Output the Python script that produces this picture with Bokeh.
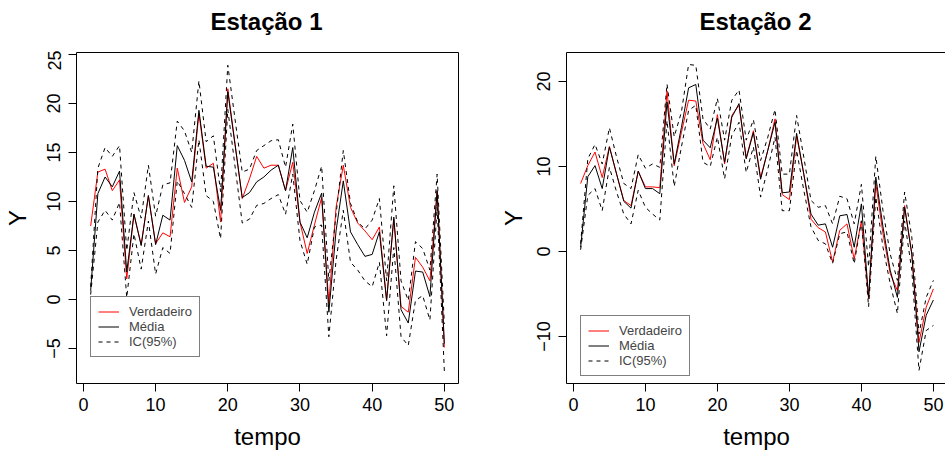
from bokeh.plotting import figure
from bokeh.layouts import row, column
from bokeh.models import FixedTicker, Range1d, Legend, LegendItem
from bokeh.core.properties import value
from bokeh.embed import file_html
from bokeh.resources import INLINE

tempo = list(range(1, 51))

verdadeiro1 = [7.5, 13.0, 13.3, 11.1, 12.2, 2.1, 8.7, 5.6, 10.6, 5.7,
               6.8, 6.4, 13.4, 9.9, 11.5, 19.0, 13.4, 13.9, 7.9, 21.5,
               15.9, 10.3, 12.3, 14.6, 13.4, 13.7, 13.7, 11.1, 14.0, 7.9,
               4.7, 7.6, 10.4, -0.4, 9.4, 13.7, 9.4, 7.8, 7.0, 6.1,
               7.4, -0.1, 8.2, -0.7, -1.3, 4.3, 3.3, 1.9, 11.1, -4.9]
media1 = [0.9, 10.8, 12.5, 11.5, 13.1, 2.8, 8.7, 5.5, 10.6, 5.6,
          8.6, 8.1, 15.7, 14.2, 12.0, 19.3, 13.6, 13.5, 9.1, 21.2,
          15.8, 10.4, 10.9, 12.0, 12.5, 13.2, 13.7, 11.1, 15.5, 7.9,
          6.3, 8.9, 10.85, -1.3, 7.0, 12.1, 6.9, 5.6, 4.4, 4.6,
          6.9, -0.1, 8.4, -1.05, -2.4, 2.9, 2.8, 0.3, 11.1, -4.5]
sup1 = [1.3, 13.4, 15.5, 14.6, 15.7, 5.0, 10.9, 8.3, 13.7, 8.5,
        11.7, 11.9, 18.2, 17.2, 15.0, 22.3, 16.1, 16.7, 11.0, 23.9,
        18.4, 13.0, 13.3, 15.2, 15.7, 16.2, 16.3, 13.5, 17.9, 10.1,
        8.9, 11.1, 13.6, 1.9, 8.7, 15.2, 9.8, 7.9, 7.2, 8.1,
        10.3, 1.9, 11.6, 1.9, -0.1, 5.9, 5.2, 3.0, 12.8, -2.5]
inf1 = [0.5, 7.9, 9.1, 8.1, 9.9, 0.2, 6.7, 3.1, 8.0, 2.6,
        5.3, 4.7, 12.1, 10.8, 9.4, 16.3, 10.6, 10.0, 6.2, 19.4,
        13.6, 7.8, 8.2, 9.6, 9.8, 10.3, 10.7, 8.7, 12.8, 6.0,
        3.6, 7.4, 7.6, -3.8, 4.0, 9.1, 3.8, 3.0, 1.9, 1.3,
        3.8, -3.7, 5.3, -3.8, -4.7, -0.1, 0.4, -2.1, 9.4, -7.3]

verdadeiro2 = [8.0, 10.1, 11.7, 8.7, 12.35, 9.1, 6.0, 5.4, 9.45, 7.6,
               7.6, 7.5, 18.9, 10.1, 14.0, 17.8, 17.7, 12.7, 10.8, 16.1,
               10.3, 16.0, 17.2, 11.0, 14.2, 8.7, 11.9, 15.6, 6.7, 6.1,
               13.6, 9.1, 3.8, 2.8, 2.3, -1.25, 2.5, 3.25, -0.9, 3.6,
               -5.6, 8.0, 2.1, -2.6, -4.6, 5.4, -0.3, -10.7, -6.55, -4.4]
media2 = [0.5, 8.8, 10.1, 7.4, 12.3, 9.1, 5.9, 5.1, 9.45, 7.4,
          7.4, 6.8, 17.6, 10.3, 14.6, 19.25, 19.65, 13.1, 12.2, 15.7,
          10.5, 15.8, 17.4, 10.9, 14.0, 8.5, 11.9, 15.2, 6.9, 7.0,
          13.9, 9.1, 4.4, 3.1, 3.25, 0.5, 4.2, 4.35, 0.5, 5.6,
          -5.4, 8.75, 2.9, -2.2, -5.4, 5.2, -0.3, -11.8, -7.5, -5.7]
sup2 = [0.9, 10.9, 12.6, 10.3, 14.55, 11.1, 8.0, 7.4, 11.4, 9.8,
        10.3, 9.9, 19.7, 13.5, 16.4, 22.0, 21.9, 15.6, 14.4, 18.0,
        13.1, 17.8, 19.0, 13.1, 15.5, 10.7, 13.45, 16.7, 9.1, 9.1,
        16.0, 11.1, 6.0, 5.2, 5.4, 3.25, 6.5, 6.2, 3.25, 7.9,
        -1.8, 11.2, 4.8, -0.3, -3.4, 7.0, 1.7, -9.7, -5.4, -3.4]
inf2 = [0.2, 6.6, 7.4, 4.8, 9.9, 7.0, 4.4, 3.25, 7.2, 5.2,
        4.4, 3.7, 15.4, 7.65, 12.3, 16.6, 17.2, 10.5, 10.0, 13.45,
        8.55, 13.65, 15.2, 9.3, 12.3, 6.4, 9.7, 13.45, 4.8, 4.8,
        11.9, 7.2, 2.9, 1.3, 0.9, -1.4, 2.1, 2.3, -1.45, 3.6,
        -6.5, 6.4, 0.5, -3.8, -7.3, 3.6, -2.2, -14.0, -9.3, -8.7]

x_ticks = [0, 10, 20, 30, 40, 50]
y_ticks1 = [-5, 0, 5, 10, 15, 20, 25]
y_ticks2 = [-10, 0, 10, 20]
titulos = ["Estação 1", "Estação 2"]
legendas = ["Verdadeiro", "Média", "IC(95%)"]

FONT = "Liberation Sans"
FH = 331
TOP = 50


def titulo_fig(texto, width, cx):
    t = figure(width=width, height=TOP, x_range=Range1d(0, width),
               y_range=Range1d(0, TOP), x_axis_type=None, y_axis_type=None,
               output_backend="svg", toolbar_location=None, title=None,
               min_border=0)
    t.outline_line_color = None
    t.grid.visible = False
    t.background_fill_color = "white"
    t.border_fill_color = "white"
    t.text(x=[cx], y=[TOP - 21], text=[texto], text_font=value(FONT),
           text_font_style="bold", text_font_size="24px", text_color="black",
           text_align="center", text_baseline="middle")
    return t


def painel(verd, med, sup, inf, yticks, yr, xr, fw, bl, br,
           leg_loc, ylab_standoff):
    p = figure(frame_width=fw, frame_height=FH, x_range=Range1d(*xr),
               y_range=Range1d(*yr), output_backend="svg", toolbar_location=None,
               min_border_left=bl, min_border_right=br, min_border_top=2,
               min_border_bottom=70, title=None)
    p.background_fill_color = "white"
    p.border_fill_color = "white"
    p.outline_line_color = "black"
    p.outline_line_width = 1
    p.outline_line_alpha = 1
    p.grid.visible = False

    p.xaxis.ticker = FixedTicker(ticks=x_ticks)
    p.yaxis.ticker = FixedTicker(ticks=yticks)
    p.xaxis.axis_label = "tempo"
    p.yaxis.axis_label = "Y"
    for ax in (p.xaxis, p.yaxis):
        ax.axis_line_color = None
        ax.major_tick_out = 8
        ax.major_tick_in = 0
        ax.minor_tick_line_color = None
        ax.major_tick_line_color = "black"
        ax.major_label_text_font = FONT
        ax.major_label_text_font_size = "18px"
        ax.major_label_text_color = "black"
        ax.axis_label_text_font = FONT
        ax.axis_label_text_font_size = "24px"
        ax.axis_label_text_font_style = "normal"
        ax.axis_label_text_color = "black"
    p.xaxis.major_label_standoff = 6
    p.xaxis.axis_label_standoff = 9
    p.yaxis.major_label_orientation = "vertical"
    p.yaxis.major_label_standoff = 8
    p.yaxis.axis_label_standoff = ylab_standoff

    r_v = p.line(tempo, verd, line_color="red", line_width=1)
    r_m = p.line(tempo, med, line_color="black", line_width=1)
    r_s = p.line(tempo, sup, line_color="black", line_width=1, line_dash="4 4")
    p.line(tempo, inf, line_color="black", line_width=1, line_dash="4 4")

    leg = Legend(items=[LegendItem(label=legendas[0], renderers=[r_v]),
                        LegendItem(label=legendas[1], renderers=[r_m]),
                        LegendItem(label=legendas[2], renderers=[r_s])],
                 location=leg_loc)
    leg.border_line_color = "black"
    leg.border_line_width = 1
    leg.background_fill_color = "white"
    leg.background_fill_alpha = 1
    leg.label_text_font = FONT
    leg.label_text_font_size = "13px"
    leg.label_height = 13
    leg.glyph_height = 13
    leg.glyph_width = 21
    leg.label_standoff = 10
    leg.spacing = 0
    leg.padding = 7
    leg.margin = 0
    p.add_layout(leg, "center")
    return p


p1 = painel(verdadeiro1, media1, sup1, inf1, y_ticks1,
            (-8.57, 25.2), (-0.96, 51.96), 382, 75, 38, (14, 26), 14)
p2 = painel(verdadeiro2, media2, sup2, inf2, y_ticks2,
            (-15.53, 23.41), (-0.96, 51.82), 380, 70, 0, (14, 7), 8)

t1 = titulo_fig(titulos[0], 495, 266)
t2 = titulo_fig(titulos[1], 450, 260)

layout = column(row(t1, t2), row(p1, p2))
open("out.html", "w").write(file_html(layout, INLINE))
